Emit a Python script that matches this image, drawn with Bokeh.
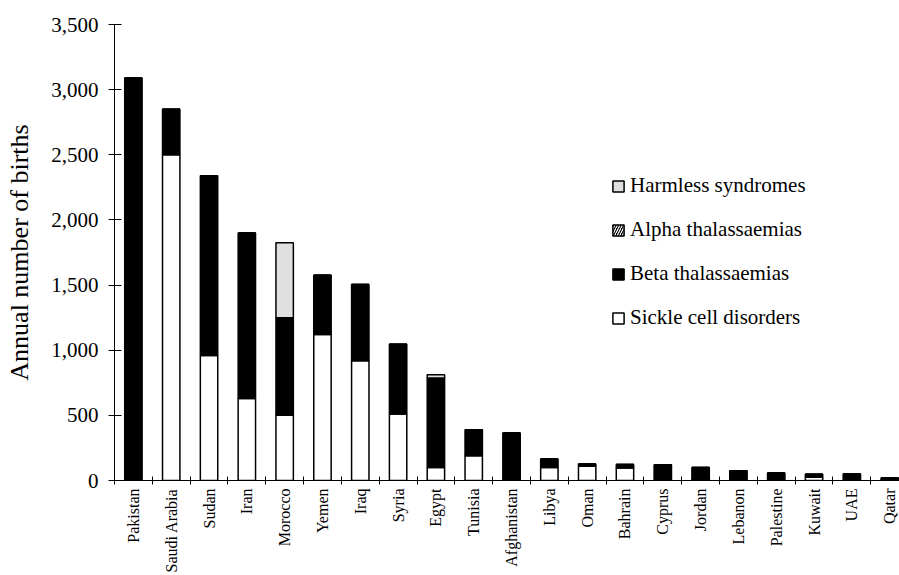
import numpy as np
from bokeh.plotting import figure
from bokeh.models import (ColumnDataSource, FixedTicker, NumeralTickFormatter,
                          Legend, LegendItem, Range1d)
from bokeh.embed import file_html
from bokeh.resources import INLINE

countries = ["Pakistan", "Saudi Arabia", "Sudan", "Iran", "Morocco", "Yemen",
             "Iraq", "Syria", "Egypt", "Tunisia", "Afghanistan", "Libya",
             "Oman", "Bahrain", "Cyprus", "Jordan", "Lebanon", "Palestine",
             "Kuwait", "UAE", "Qatar"]
sickle = [0, 2500, 960, 630, 500, 1120, 920, 510, 100, 190, 0, 100,
          110, 95, 0, 8, 6, 0, 25, 0, 0]
beta = [3090, 350, 1380, 1270, 750, 455, 585, 535, 687, 200, 365, 65,
        16, 28, 120, 92, 68, 58, 23, 50, 20]
alpha = [0, 0, 0, 0, 0, 0, 0, 0, 0, 0, 0, 0,
         0, 0, 0, 0, 0, 0, 0, 0, 0]
harmless = [0, 0, 0, 0, 575, 0, 0, 0, 25, 0, 0, 0,
            0, 0, 0, 0, 0, 0, 0, 0, 0]
y_ticks = [0, 500, 1000, 1500, 2000, 2500, 3000, 3500]

FONT = "Liberation Serif"

x = np.arange(len(countries)) + 0.5
src = ColumnDataSource(dict(x=x, sickle=sickle, beta=beta, alpha=alpha,
                            harmless=harmless))

p = figure(width=899, height=575, output_backend="svg", toolbar_location=None,
           x_range=Range1d(0, 20.76), y_range=Range1d(0, 3500),
           min_border_left=114, min_border_right=0, min_border_top=24,
           min_border_bottom=0)

series = ["sickle", "beta", "alpha", "harmless"]
rs = p.vbar_stack(series, x="x", width=0.46, source=src,
                  fill_color=["white", "black", "black", "#e0e0e0"],
                  line_color="black", line_width=1.5,
                  hatch_pattern=[None, None, "/", None],
                  hatch_color="white", hatch_scale=5, hatch_weight=1.2)

p.xgrid.visible = False
p.ygrid.visible = False
p.outline_line_color = None

xa = p.xaxis[0]
xa.ticker = FixedTicker(ticks=list(x), minor_ticks=list(range(len(countries) + 1)))
xa.major_label_overrides = {float(v): c for v, c in zip(x, countries)}
xa.major_label_orientation = np.pi / 2
xa.major_tick_line_color = None
xa.major_tick_in = 0
xa.major_tick_out = 5
xa.minor_tick_in = 4
xa.minor_tick_out = 4
xa.minor_tick_line_color = "black"
xa.major_label_standoff = 3
xa.major_label_text_font = FONT
xa.major_label_text_font_size = "16px"
xa.major_label_text_color = "black"
xa.axis_line_color = "black"

ya = p.yaxis[0]
ya.ticker = FixedTicker(ticks=y_ticks, minor_ticks=[])
ya.formatter = NumeralTickFormatter(format="0,0")
ya.major_tick_in = 7
ya.major_tick_out = 6
ya.major_label_standoff = 10
ya.major_label_text_font = FONT
ya.major_label_text_font_size = "21px"
ya.major_label_text_color = "black"
ya.axis_label = "Annual number of births"
ya.axis_label_text_font = FONT
ya.axis_label_text_font_size = "26px"
ya.axis_label_text_font_style = "normal"
ya.axis_label_text_color = "black"
ya.axis_label_standoff = 14
ya.axis_line_color = "black"

legend = Legend(items=[
    LegendItem(label="Harmless syndromes", renderers=[rs[3]]),
    LegendItem(label="Alpha thalassaemias", renderers=[rs[2]]),
    LegendItem(label="Beta thalassaemias", renderers=[rs[1]]),
    LegendItem(label="Sickle cell disorders", renderers=[rs[0]]),
], location=(497, 150))
legend.glyph_width = 14
legend.glyph_height = 14
legend.label_height = 20
legend.spacing = 19
legend.padding = 0
legend.margin = 0
legend.label_standoff = 5
legend.label_text_font = FONT
legend.label_text_font_size = "21px"
legend.label_text_color = "black"
legend.border_line_color = None
legend.background_fill_alpha = 0
p.add_layout(legend)

open("out.html", "w").write(file_html(p, INLINE))
